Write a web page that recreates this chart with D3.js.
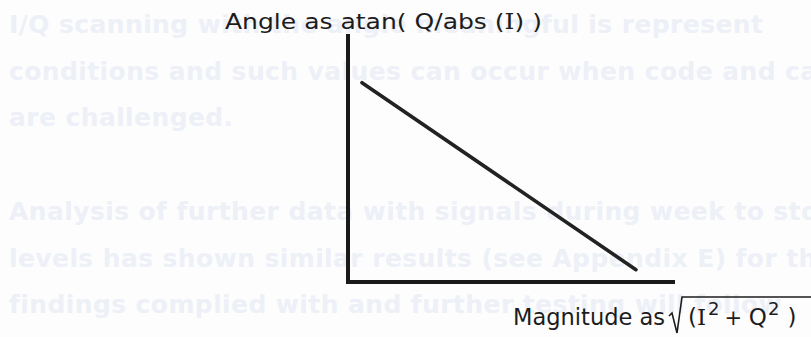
<!DOCTYPE html>
<html>
<head>
<meta charset="utf-8">
<script src="https://cdn.jsdelivr.net/npm/d3@7"></script>
<style>
  html, body { margin: 0; padding: 0; background: #fdfdfe; }
  svg { display: block; }
</style>
</head>
<body>
<div id="chart" style="width:811px;height:337px"></div>
<script>
// faint document text behind the figure
const backText = [
    "I/Q scanning with the angle meaningful is represent",
    "conditions and such values can occur when code and carr",
    "are challenged.",
    "",
    "Analysis of further data with signals during week to sto",
    "levels has shown similar results (see Appendix E) for the",
    "findings complied with and further testing will follow"
];

// axes of the sketch, in unit coordinates
const axisX = [[0, 0], [1, 0]];
const axisY = [[0, 0], [0, 1]];

// the falling line: magnitude vs angle
const magnitude = [0.043, 0.886];
const angle = [0.81, 0.05];

function drawSketch(container) {

    d3.select(container).selectAll('*').remove();

    const margin = {top: 36, right: 138, bottom: 55, left: 348};
    const W = 811, H = 337;
    const width = W - margin.left - margin.right;
    const height = H - margin.top - margin.bottom;

    const svg = d3.select(container)
        .append("svg")
        .attr("width", W)
        .attr("height", H);

    // background paragraph, very light
    svg.append("g")
        .selectAll("text")
        .data(backText)
        .enter().append("text")
        .attr("x", 9)
        .attr("y", function (d, i) { return 33 + i * 46.7; })
        .style("font-family", "DejaVu Sans")
        .style("font-weight", "bold")
        .style("font-size", "25px")
        .style("letter-spacing", "0.4px")
        .style("fill", "#edf0f7")
        .text(function (d) { return d; });

    let x = d3.scaleLinear().domain([0, 1]).range([0, width]);
    let y = d3.scaleLinear().domain([0, 1]).range([height, 0]);

    const g = svg.append("g")
        .attr("transform", "translate(" + margin.left + "," + margin.top + ")");

    const line = d3.line()
        .x(function (d) { return x(d[0]); })
        .y(function (d) { return y(d[1]); });

    [axisX, axisY].forEach(function (a) {
        g.append("path")
            .attr("d", line(a))
            .style("fill", "none")
            .style("stroke", "#1a1a1a")
            .style("stroke-width", 4)
            .style("stroke-linecap", "square");
    });

    g.append("path")
        .attr("d", line(d3.zip(magnitude, angle)))
        .style("fill", "none")
        .style("stroke", "#222")
        .style("stroke-width", 3.6)
        .style("stroke-linecap", "round");

    // y label
    const top = svg.append("text")
        .attr("x", 225)
        .attr("y", 29)
        .attr("textLength", 317)
        .attr("lengthAdjust", "spacingAndGlyphs")
        .style("font-family", "DejaVu Sans")
        .style("font-size", "22px")
        .style("fill", "#1c1c1c");
    top.append("tspan").text("Angle as  atan( Q/abs (");
    top.append("tspan").style("font-family", "DejaVu Serif").text("I");
    top.append("tspan").text(") )");

    // x label
    const lab = svg.append("g")
        .style("font-family", "DejaVu Sans")
        .style("font-size", "23px")
        .style("fill", "#1c1c1c");
    lab.append("text")
        .attr("x", 513).attr("y", 325)
        .attr("textLength", 152)
        .attr("lengthAdjust", "spacingAndGlyphs")
        .text("Magnitude as");

    lab.append("path")
        .attr("d", "M669,316 L672,313 L677,333 L682,297 L811,297")
        .style("fill", "none")
        .style("stroke", "#1c1c1c")
        .style("stroke-width", 1.6)
        .style("stroke-linejoin", "miter");

    const f = lab.append("text")
        .attr("x", 688).attr("y", 325);
    f.append("tspan").text("(");
    f.append("tspan").style("font-family", "DejaVu Serif").text("I");
    f.append("tspan").attr("dy", -10).attr("dx", 2).style("font-size", "18px").text("2");
    f.append("tspan").attr("dy", 10).attr("dx", 5).style("font-size", "21px").text("+ ");
    f.append("tspan").text("Q");
    f.append("tspan").attr("dy", -10).attr("dx", 1).style("font-size", "18px").text("2");
    f.append("tspan").attr("dy", 10).attr("dx", 8).text(")");
}

drawSketch("#chart");
</script>
</body>
</html>
